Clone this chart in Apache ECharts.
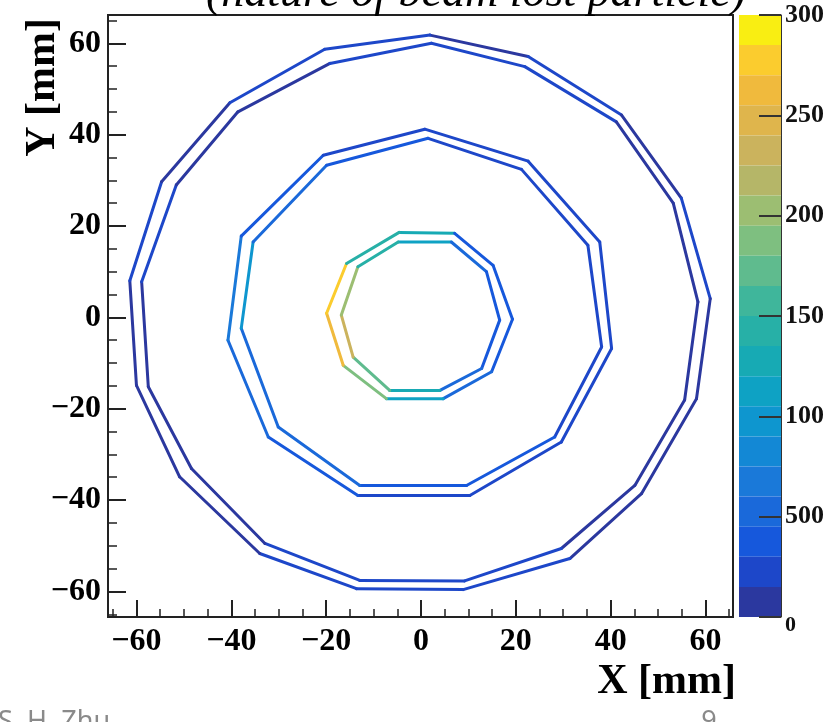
<!DOCTYPE html>
<html>
<head>
<meta charset="utf-8">
<script src="https://cdn.jsdelivr.net/npm/echarts@6/dist/echarts.min.js"></script>
<style>
html, body { margin: 0; padding: 0; background: #fff; }
#chart { width: 829px; height: 722px; }
</style>
</head>
<body>
<div id="chart"></div>
<script>
// axis ticks
var xTicks = [-60, -40, -20, 0, 20, 40, 60];
var yTicks = [-60, -40, -20, 0, 20, 40, 60];
var minorTicks = [-65, -55, -50, -45, -35, -30, -25, -15, -10, -5, 5, 10, 15, 25, 30, 35, 45, 50, 55, 65];
var zTicks = [0, 500, 1000, 1500, 2000, 2500, 3000];
var zTickLabels = ['0', '500', '100', '150', '200', '250', '300'];

// palette of the z colour bar, bottom -> top
var birdColors = ['#2b389f', '#1d47c9', '#1658dc', '#1a69da', '#1a79d9', '#1388d5', '#0e96cf', '#0ea2c4', '#17aab4', '#27b0a7',
    '#3fb69b', '#5fbb8e', '#7ebf80', '#9cbe72', '#b5b668', '#cbb35d', '#dfb54c', '#f0ba3d', '#fbcc2e', '#f9ee12'];

// outer ring (r ~ 60 mm), outer and inner trace, vertices in mm, counts per edge
var outerOutX = [1.9, 22.6, 42.3, 54.9, 61.0, 58.1, 46.5, 31.4, 8.9, -13.6, -34.0, -50.9, -60.0, -61.4, -54.7, -40.3, -20.3];
var outerOutY = [61.8, 57.1, 44.3, 26.1, 4.1, -17.8, -38.6, -52.8, -59.6, -59.4, -51.7, -34.9, -14.9, 8.0, 29.7, 47.0, 58.7];
var outerOutN = [140, 200, 130, 170, 120, 110, 140, 180, 200, 160, 130, 120, 110, 170, 140, 160, 190];
var outerInX = [2.2, 21.9, 41.2, 53.2, 58.4, 55.6, 45.1, 29.6, 9.2, -12.9, -32.9, -48.4, -57.5, -58.9, -51.6, -38.6, -19.2];
var outerInY = [60.0, 54.9, 42.8, 25.0, 3.4, -18.1, -36.8, -50.6, -57.7, -57.6, -49.5, -33.1, -15.2, 7.8, 29.0, 45.0, 55.6];
var outerInN = [160, 190, 140, 120, 130, 120, 150, 170, 220, 180, 140, 130, 120, 160, 140, 150, 200];

// middle ring (r ~ 40 mm)
var midOutX = [0.8, 22.6, 37.7, 40.2, 29.6, 10.3, -13.3, -32.2, -40.7, -37.9, -20.6];
var midOutY = [41.2, 34.2, 16.5, -6.8, -27.3, -39.0, -39.0, -26.2, -5.0, 17.8, 35.5];
var midOutN = [260, 250, 240, 250, 280, 300, 330, 550, 700, 380, 280];
var midInX = [1.5, 21.2, 35.2, 38.1, 28.2, 9.6, -12.9, -30.1, -37.9, -35.4, -19.9];
var midInY = [39.2, 32.4, 15.8, -6.5, -26.2, -36.8, -36.8, -24.0, -2.4, 16.5, 33.3];
var midInN = [290, 280, 270, 290, 320, 450, 520, 600, 1000, 600, 330];

// inner ring (r ~ 19 mm)
var innOutX = [-4.6, 7.1, 15.2, 19.3, 14.9, 4.7, -7.3, -16.4, -19.9, -15.7];
var innOutY = [18.6, 18.4, 11.4, -0.4, -11.9, -17.8, -17.8, -10.5, 0.9, 11.8];
var innOutN = [1250, 450, 400, 400, 500, 1200, 1900, 2600, 2800, 1500];
var innInX = [-4.8, 6.4, 13.8, 16.6, 12.8, 4.0, -6.6, -14.3, -16.8, -13.3];
var innInY = [16.5, 16.5, 10.0, -0.6, -11.2, -16.0, -16.0, -8.7, 0.5, 11.1];
var innInN = [1100, 550, 450, 450, 600, 1300, 1700, 2300, 2000, 1400];

function ringEdges(xs, ys, ns) {
    var out = [];
    for (var i = 0; i < xs.length; i++) {
        var j = (i + 1) % xs.length;
        out.push([xs[i], ys[i], xs[j], ys[j], ns[i]]);
    }
    return out;
}

var edges = [].concat(
    ringEdges(outerOutX, outerOutY, outerOutN),
    ringEdges(outerInX, outerInY, outerInN),
    ringEdges(midOutX, midOutY, midOutN),
    ringEdges(midInX, midInY, midInN),
    ringEdges(innOutX, innOutY, innOutN),
    ringEdges(innInX, innInY, innInN)
);

var serif = '"Liberation Serif", "Times New Roman", serif';
function minus(v) { return String(v).replace('-', '\u2212'); }

var myChart = echarts.init(document.getElementById('chart'));
myChart.setOption({
    animation: false,
    backgroundColor: '#fff',
    grid: [
        { left: 108, top: 15, width: 625, height: 602, show: true, borderColor: '#222', borderWidth: 2 },
        { left: 739, top: 15, width: 42, height: 602 }
    ],
    xAxis: [{
        gridIndex: 0, type: 'value', min: -66, max: 65.8, splitNumber: 7, position: 'bottom',
        axisLine: { show: false, onZero: false },
        splitLine: { show: false },
        axisTick: { inside: true, length: 17, customValues: xTicks, lineStyle: { color: '#222', width: 2 } },
        axisLabel: { customValues: xTicks, formatter: minus, margin: 9, color: '#000',
            fontFamily: serif, fontWeight: 'bold', fontSize: 32 }
    }, {
        gridIndex: 0, type: 'value', min: -66, max: 65.8, position: 'bottom',
        axisLine: { show: false, onZero: false }, splitLine: { show: false }, axisLabel: { show: false },
        axisTick: { inside: true, length: 8, customValues: minorTicks, lineStyle: { color: '#222', width: 1.5 } }
    }, {
        gridIndex: 1, type: 'value', show: false, axisLine: { onZero: false }
    }],
    yAxis: [{
        gridIndex: 0, type: 'value', min: -65.6, max: 66.2, splitNumber: 7, position: 'left',
        axisLine: { show: false, onZero: false },
        splitLine: { show: false },
        axisTick: { inside: true, length: 18, customValues: yTicks, lineStyle: { color: '#222', width: 2 } },
        axisLabel: { customValues: yTicks, formatter: minus, margin: 7, color: '#000',
            fontFamily: serif, fontWeight: 'bold', fontSize: 32 }
    }, {
        gridIndex: 0, type: 'value', min: -65.6, max: 66.2, position: 'left',
        axisLine: { show: false, onZero: false }, splitLine: { show: false }, axisLabel: { show: false },
        axisTick: { inside: true, length: 9, customValues: minorTicks, lineStyle: { color: '#222', width: 1.5 } }
    }, {
        gridIndex: 1, type: 'value', position: 'right', min: 0, max: 3000, interval: 500, z: 10,
        axisLine: { show: true, onZero: false, lineStyle: { color: '#333', width: 1 } },
        splitLine: { show: false },
        axisTick: { inside: true, length: 22, lineStyle: { color: '#333', width: 2 } },
        axisLabel: {
            margin: 4, color: '#111', fontFamily: serif, fontWeight: 'bold', fontSize: 26,
            formatter: function (v) {
                var i = zTicks.indexOf(v);
                if (v === 0) return '{s|0}';
                return i >= 0 ? zTickLabels[i] : '';
            },
            rich: { s: { fontFamily: serif, fontWeight: 'bold', fontSize: 22, color: '#111', padding: [16, 0, 0, 0] } }
        }
    }],
    visualMap: {
        type: 'piecewise',
        seriesIndex: 0,
        dimension: 4,
        min: 0,
        max: 3000,
        splitNumber: 20,
        orient: 'vertical',
        left: 739,
        top: 15,
        padding: 0,
        itemWidth: 42,
        itemHeight: 30.1,
        itemGap: 0,
        itemSymbol: 'rect',
        showLabel: false,
        selectedMode: false,
        hoverLink: false,
        inRange: { color: birdColors }
    },
    graphic: [
        { type: 'text', x: 476, y: -6, style: { text: '(nature of beam lost particle)', font: 'italic 46px ' + serif,
            fill: '#000', align: 'center', verticalAlign: 'middle' } },
        { type: 'text', x: 736, y: 682, style: { text: 'X [mm]', font: 'bold 42px ' + serif,
            fill: '#000', align: 'right', verticalAlign: 'middle' } },
        { type: 'text', x: 43, y: 18, rotation: Math.PI / 2, style: { text: 'Y [mm]', font: 'bold 42px ' + serif,
            fill: '#000', align: 'right', verticalAlign: 'middle' } },
        { type: 'text', x: -2, y: 722, style: { text: 'S. H. Zhu', font: '27px "Noto Sans", sans-serif',
            fill: '#8a8a8a', align: 'left', verticalAlign: 'middle' } },
        { type: 'text', x: 709, y: 722, style: { text: '9', font: '27px "Noto Sans", sans-serif',
            fill: '#8a8a8a', align: 'center', verticalAlign: 'middle' } }
    ],
    series: [{
        type: 'custom',
        xAxisIndex: 0,
        yAxisIndex: 0,
        silent: true,
        data: edges,
        encode: { x: [0, 2], y: [1, 3] },
        renderItem: function (params, api) {
            var a = api.coord([api.value(0), api.value(1)]);
            var b = api.coord([api.value(2), api.value(3)]);
            return {
                type: 'line',
                shape: { x1: a[0], y1: a[1], x2: b[0], y2: b[1] },
                style: { stroke: api.visual('color'), lineWidth: 3, lineCap: 'round' }
            };
        }
    }]
});
</script>
</body>
</html>
